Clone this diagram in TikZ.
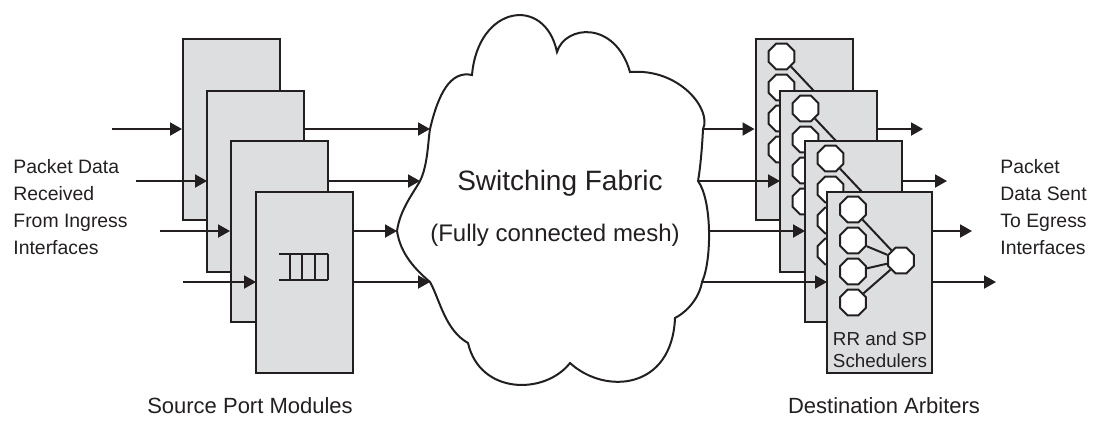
\documentclass[tikz,border=0pt]{standalone}
\usepackage{fontspec}
\setmainfont{Liberation Sans}
\usetikzlibrary{arrows.meta,shapes.geometric}
\definecolor{boxgray}{RGB}{221,222,224}
\definecolor{ink}{RGB}{35,31,32}
\tikzstyle{modbox}=[draw=ink,fill=boxgray,line width=1pt,minimum width=48.5pt,minimum height=90.5pt,inner sep=0pt]
\tikzstyle{prio}=[draw=ink,fill=white,line width=1pt,regular polygon,regular polygon sides=8,minimum size=14pt,inner sep=0pt]
\newcommand{\sched}[1]{%
  \begin{scope}[shift={(#1.north west)}]
    \foreach \k/\yy in {1/19,2/50,3/81,4/112}
      \node[prio] (#1q\k) at (27,\yy) {};
    \node[prio] (#1s) at (75,70) {};
    \foreach \k in {1,...,4}
      \draw[line width=1pt,ink] (#1q\k) -- (#1s);
  \end{scope}}
\tikzset{
  arr/.style={-{Triangle[length=6pt,width=6.5pt]},line width=1pt,draw=ink},
  side/.style={font=\fontsize{9.7}{13.5}\selectfont,align=left,text=ink,inner sep=0pt},
}

\begin{document}
\begin{tikzpicture}[x=0.5pt,y=-0.5pt]
    \useasboundingbox (0,0) rectangle (1095,420);

    % where the links meet the cloud
    \coordinate (fin1) at (430,129);
    \coordinate (fin2) at (420,181);
    \coordinate (fin3) at (397,231);
    \coordinate (fin4) at (430,282);
    \coordinate (fout1) at (703,129);
    \coordinate (fout2) at (698,181);
    \coordinate (fout3) at (709,231);
    \coordinate (fout4) at (702,282);

    % switching fabric
    \draw[line width=1pt,ink,fill=white] (557,52) .. controls (565,25) and (615,20) .. (630,72)
        .. controls (680,68) and (712,110) .. (fout1) .. controls (702,150) and (700,170) .. (fout2)
        .. controls (712,200) and (712,260) .. (fout4)
        .. controls (700,295) and (690,310) .. (675,318)
        .. controls (672,390) and (605,395) .. (570,363)
        .. controls (545,395) and (480,395) .. (468,343)
        .. controls (445,330) and (440,300) .. (fin4)
        .. controls (410,265) and (400,250) .. (fin3)
        .. controls (400,210) and (412,195) .. (fin2)
        .. controls (428,165) and (428,140) .. (fin1)
        .. controls (438,95) and (450,70) .. (472,75)
        .. controls (478,5) and (545,-5) .. (557,52) -- cycle;
    \node[text=ink,font=\fontsize{14}{16}\selectfont] (fabric) at (560,183) {Switching Fabric};
    \node[text=ink,font=\fontsize{12}{14}\selectfont] (mesh) at (555,235) {(Fully connected mesh)};

    % source port modules
    \coordinate (in1) at (112,129);
    \coordinate (in2) at (136,181);
    \coordinate (in3) at (160,231);
    \coordinate (in4) at (183,282);
    \node[modbox] (src1) at (231.5,129) {};
    \draw[arr] (in1) -- (src1.west);
    \draw[arr] (src1.east) -- (fin1);
    \draw[arr] (in2) -- (in2 -| 207,0);
    \node[modbox] (src2) at (255.5,181) {};
    \draw[arr] (src2.east) -- (fin2);
    \draw[arr] (in3) -- (in3 -| 230,0);
    \node[modbox] (src3) at (279,231) {};
    \draw[arr] (src3.east) -- (fin3);
    \draw[arr] (in4) -- (in4 -| 256,0);
    \node[modbox] (src4) at (304.5,282) {};
    \draw[arr] (src4.east) -- (fin4);
    % queue
    \begin{scope}[shift={(src4.north west)},line width=1pt,ink]
        \draw (24,63) -- (73,63) (24,89) -- (73,89);
        \foreach \qx in {35,47,60,73}
            \draw (\qx,63) -- (\qx,89);
    \end{scope}

    % destination arbiters
    \coordinate (eg1) at (923,129);
    \coordinate (eg2) at (947,181);
    \coordinate (eg3) at (972,231);
    \coordinate (eg4) at (996,282);
    \node[modbox] (arb1) at (804,129) {};
    \sched{arb1}
    \draw[arr] (fout1) -- (arb1.west);
    \draw[arr] (arb1.east) -- (eg1);
    \draw[arr] (fout2) -- (fout2 -| 780,0);
    \node[modbox] (arb2) at (828,181) {};
    \sched{arb2}
    \draw[arr] (arb2.east) -- (eg2);
    \draw[arr] (fout3) -- (fout3 -| 805,0);
    \node[modbox] (arb3) at (853,231) {};
    \sched{arb3}
    \draw[arr] (arb3.east) -- (eg3);
    \draw[arr] (fout4) -- (fout4 -| 827,0);
    \node[modbox,minimum width=52.5pt] (arb4) at (879.5,282) {};
    \sched{arb4}
    \draw[arr] (arb4.east) -- (eg4);
    \node[text=ink,align=center,font=\fontsize{9.4}{11}\selectfont] (rrsp) at (880,350) {RR and SP\\Schedulers};

    % labels
    \node[side,anchor=west] (ingress) at (13,207) {Packet Data\\Received\\From Ingress\\Interfaces};
    \node[side,anchor=west] (egress) at (1000,207) {Packet\\Data Sent\\To Egress\\Interfaces};
    \node[text=ink,font=\fontsize{11}{13}\selectfont] (srclab) at (250,406) {Source Port Modules};
    \node[text=ink,font=\fontsize{11}{13}\selectfont] (arblab) at (884,406) {Destination Arbiters};
\end{tikzpicture}
\end{document}
